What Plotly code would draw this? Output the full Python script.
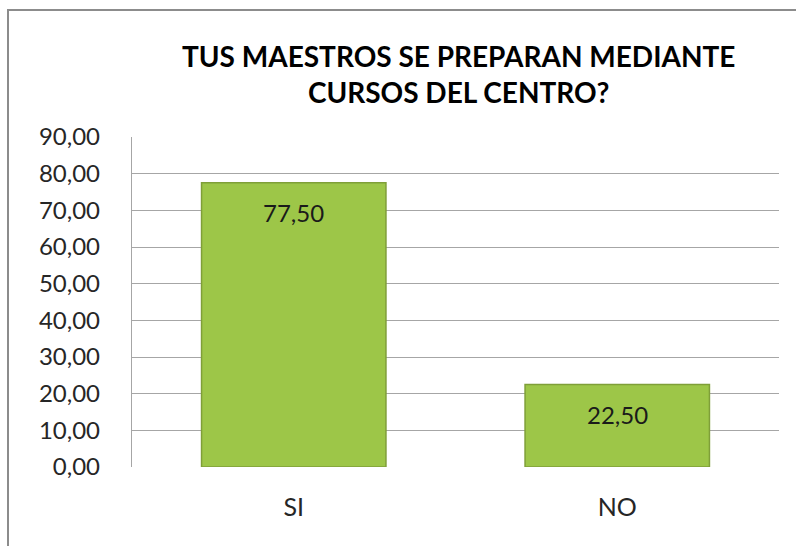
import plotly.graph_objects as go

categories = ["SI", "NO"]
values = [77.50, 22.50]
title_text = "TUS MAESTROS SE PREPARAN MEDIANTE<br>CURSOS DEL CENTRO?"
y_ticks = [0, 10, 20, 30, 40, 50, 60, 70, 80, 90]

FONT = "Lato, Open Sans, sans-serif"
W, H = 796, 546
L, R, T, B = 132, 17, 137, 79
pw, ph = W - L - R, H - T - B

fig = go.Figure()
fig.add_trace(go.Bar(
    x=categories, y=values,
    marker=dict(color="#9dc648", line=dict(color="#7f9f38", width=1.5)),
    width=0.57,
    hoverinfo="skip",
))

for c, v in zip(categories, values):
    fig.add_annotation(
        x=c, y=v, xref="x", yref="y",
        text=f"{v:.2f}".replace(".", ","),
        showarrow=False, yanchor="top", yshift=-13,
        font=dict(family=FONT, size=24, color="#1a1a1a"),
    )

# chart title
fig.add_annotation(
    text=f"<b>{title_text}</b>", xref="paper", yref="paper",
    x=(458 - L) / pw, y=(H - B - 74.5) / ph,
    xanchor="center", yanchor="middle", showarrow=False,
    font=dict(family=FONT, size=28, color="#000000"),
)

# outer chart border (right/bottom edges fall outside the view as in reference)
fig.add_shape(
    type="rect", xref="paper", yref="paper",
    x0=(8 - L) / pw, x1=(W + 10 - L) / pw,
    y0=-(B + 10) / ph, y1=(H - B - 10) / ph,
    line=dict(color="#8c8c8c", width=2), fillcolor="rgba(0,0,0,0)", layer="below",
)

fig.update_layout(
    width=W, height=H,
    margin=dict(l=L, r=R, t=T, b=B),
    paper_bgcolor="white", plot_bgcolor="white",
    separators=",.",
    showlegend=False,
    xaxis=dict(
        showgrid=False, showline=False, zeroline=False,
        ticks="", ticklabelstandoff=23,
        tickfont=dict(family=FONT, size=25, color="#262626"),
    ),
    yaxis=dict(
        range=[0, 90], tickvals=y_ticks, tickformat=".2f",
        showgrid=True, gridcolor="#a6a6a6", gridwidth=1.3,
        showline=True, linecolor="#a6a6a6", linewidth=1.3,
        zeroline=False, ticks="", ticklabelstandoff=26,
        tickfont=dict(family=FONT, size=24, color="#262626"),
    ),
    bargap=0.43,
)

fig.write_html("out.html", config={"displayModeBar": False},
               post_script="document.body.style.margin='0';")
